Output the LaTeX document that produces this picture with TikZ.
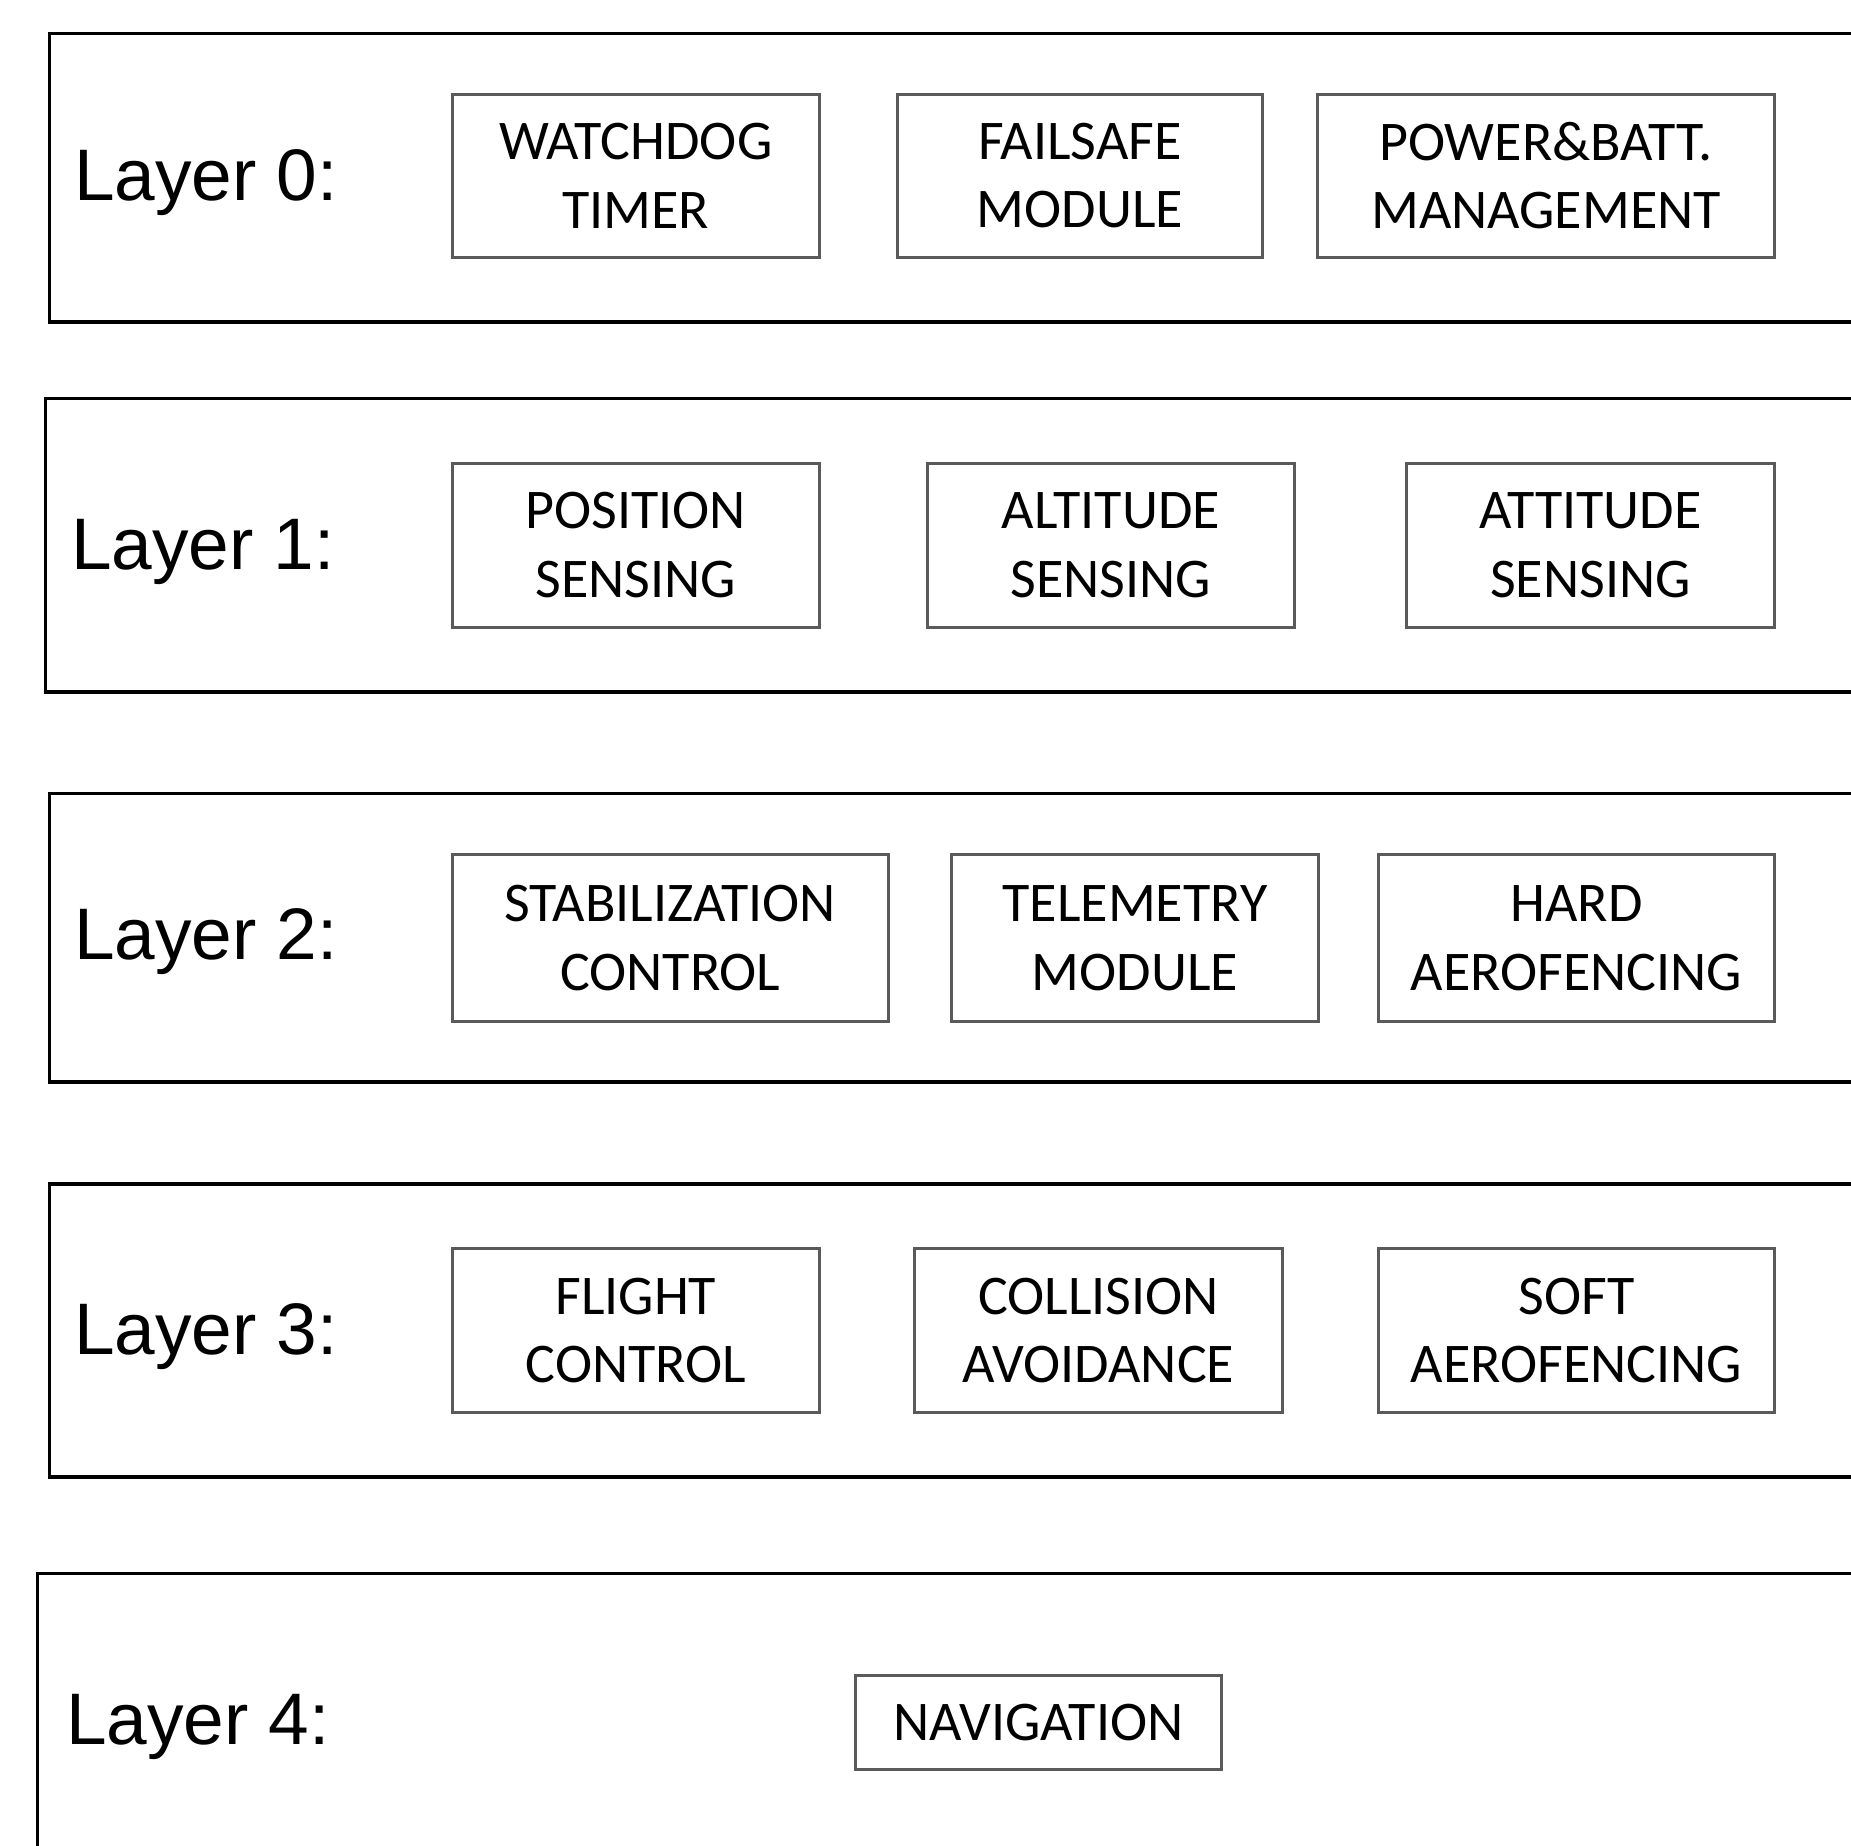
\documentclass[tikz,border=0pt]{standalone}
\usepackage{fontspec}
\newfontfamily\labfont{Liberation Sans}
\newfontfamily\modfont{Carlito}
\definecolor{modgray}{HTML}{5A5A5A}
\begin{document}
\begin{tikzpicture}[x=1pt,y=-1pt,
  layerframe/.style={draw=black,line width=3.6pt},
  layerlabel/.style={anchor=base west,inner sep=0pt,font=\labfont\fontsize{73pt}{80pt}\selectfont},
  modbox/.style={draw=modgray,line width=3pt,inner sep=0pt,align=center,
     font=\modfont\fontsize{56pt}{68.5pt}\selectfont},
]
\useasboundingbox (0,0) rectangle (1851,1845);
\fill[white] (0,0) rectangle (1851,1845);
\clip (0,0) rectangle (1851,1845);

% layer frames
\draw[layerframe] (49.4,33.5) rectangle (1900,322.2);
\draw[layerframe] (45.4,398.5) rectangle (1900,691.9);
\draw[layerframe] (49.4,793.5) rectangle (1900,1082.2);
\draw[layerframe] (49.4,1183.8) rectangle (1900,1477.2);
\draw[layerframe] (37.5,1573.5) rectangle (1900,1900);

% labels
\node[layerlabel] (lab0) at (74,200) {Layer 0:};
\node[layerlabel] (lab1) at (71,569) {Layer 1:};
\node[layerlabel] (lab2) at (74,959) {Layer 2:};
\node[layerlabel] (lab3) at (74,1354) {Layer 3:};
\node[layerlabel] (lab4) at (66,1744) {Layer 4:};

% row 0
\node[modbox,minimum width=367pt,minimum height=163pt] (wd) at (635.8,175.7) {WATCHDOG\\TIMER};
\node[modbox,minimum width=365pt,minimum height=163pt] (fs) at (1079.8,175.7) {FAILSAFE\\MODULE};
\node[modbox,minimum width=457pt,minimum height=163pt] (pb) at (1546,175.7) {POWER\&BATT.\\MANAGEMENT};

% row 1
\node[modbox,minimum width=367pt,minimum height=164pt] (ps) at (635.8,545.2) {POSITION\\SENSING};
\node[modbox,minimum width=367pt,minimum height=164pt] (als) at (1110.8,545.2) {ALTITUDE\\SENSING};
\node[modbox,minimum width=368pt,minimum height=164pt] (ats) at (1590.5,545.2) {ATTITUDE\\SENSING};

% row 2
\node[modbox,minimum width=436pt,minimum height=167.5pt] (sc) at (670.3,938) {STABILIZATION\\CONTROL};
\node[modbox,minimum width=367pt,minimum height=167.5pt] (tm) at (1135,938) {TELEMETRY\\MODULE};
\node[modbox,minimum width=396pt,minimum height=167.5pt] (ha) at (1576.5,938) {HARD\\AEROFENCING};

% row 3
\node[modbox,minimum width=367pt,minimum height=164pt] (fc) at (635.8,1330.5) {FLIGHT\\CONTROL};
\node[modbox,minimum width=368pt,minimum height=164pt] (ca) at (1098.5,1330.5) {COLLISION\\AVOIDANCE};
\node[modbox,minimum width=396pt,minimum height=164pt] (sa) at (1576.5,1330.5) {SOFT\\AEROFENCING};

% row 4
\node[modbox,minimum width=366pt,minimum height=94pt] (nav) at (1038.5,1722.2) {NAVIGATION};
\end{tikzpicture}
\end{document}
